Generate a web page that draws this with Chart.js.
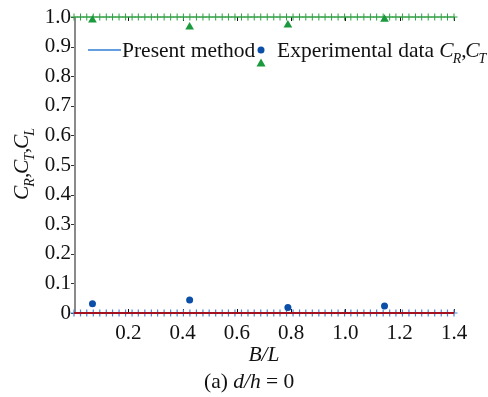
<!DOCTYPE html>
<html>
<head>
<meta charset="utf-8">
<script src="https://cdn.jsdelivr.net/npm/chart.js@4.4.0/dist/chart.umd.min.js"></script>
<style>
  html, body { margin: 0; padding: 0; background: #fff; }
  #wrap { width: 488px; height: 397px; }
</style>
</head>
<body>
<div id="wrap"><canvas id="myChart" width="488" height="397"></canvas></div>
<script>
// B/L sample points of the "present method" curves
const bGrid = [0, 0.024, 0.047, 0.071, 0.095, 0.119, 0.142, 0.166, 0.19, 0.214,
    0.237, 0.261, 0.285, 0.308, 0.332, 0.356, 0.38, 0.403, 0.427, 0.451,
    0.475, 0.498, 0.522, 0.546, 0.569, 0.593, 0.617, 0.641, 0.664, 0.688,
    0.712, 0.736, 0.759, 0.783, 0.807, 0.831, 0.854, 0.878, 0.902, 0.925,
    0.949, 0.973, 0.997, 1.02, 1.044, 1.068, 1.092, 1.115, 1.139, 1.163,
    1.186, 1.21, 1.234, 1.258, 1.281, 1.305, 1.329, 1.353, 1.376, 1.4];
// present method: C_T = 1, C_R = 0, C_L = 0 for d/h = 0
const ctPresent = 1.0;
const crPresent = 0.0;
const clPresent = 0.0;

// experimental data
const expB = [0.068, 0.426, 0.788, 1.144];
const expCR = [0.031, 0.044, 0.019, 0.024];
const expCT = [0.99, 0.966, 0.973, 0.992];

const xTicks = [0.2, 0.4, 0.6, 0.8, 1.0, 1.2, 1.4];

const serif = "'Liberation Serif', 'Times New Roman', serif";
Chart.defaults.font.family = serif;
Chart.defaults.color = '#111';

function pts(xs, ys) {
    return xs.map((x, i) => ({ x: x, y: ys[i] }));
}

// draws a string with italic main letter and small italic subscript
function drawSub(c, x, y, main, sub, size) {
    c.font = 'italic ' + size + 'px ' + serif;
    c.fillText(main, x, y);
    let w = c.measureText(main).width;
    c.font = 'italic ' + Math.round(size * 0.65) + 'px ' + serif;
    c.fillText(sub, x + w - 1, y + size * 0.28);
    return w - 1 + c.measureText(sub).width;
}

const decor = {
    id: 'decor',
    beforeDatasetsDraw(chart) {
        const c = chart.ctx;
        const xs = chart.scales.x, ys = chart.scales.y;
        const a = chart.chartArea;
        c.save();
        // left axis
        c.strokeStyle = '#8a8a8a';
        c.lineWidth = 2;
        c.beginPath();
        c.moveTo(a.left + 1, a.top);
        c.lineTo(a.left + 1, a.bottom);
        c.stroke();
        c.lineWidth = 1;
        c.strokeStyle = '#333';
        for (let v = 0; v <= 10; v++) {
            const py = Math.round(ys.getPixelForValue(v / 10)) + 0.5;
            c.beginPath();
            c.moveTo(a.left - 3, py);
            c.lineTo(a.left, py);
            c.stroke();
        }
        c.strokeStyle = '#111';
        xTicks.forEach(v => {
            const px = Math.round(xs.getPixelForValue(v)) + 0.5;
            c.beginPath();
            c.moveTo(px, a.bottom);
            c.lineTo(px, a.bottom - 4);
            c.moveTo(px, a.top);
            c.lineTo(px, a.top + 4);
            c.stroke();
        });
        c.restore();
    },
    afterDraw(chart) {
        const c = chart.ctx;
        const fs = 21.5;
        c.save();
        c.fillStyle = '#111';
        c.textBaseline = 'alphabetic';
        // legend
        c.strokeStyle = '#2f7fd6';
        c.lineWidth = 1.5;
        c.beginPath();
        c.moveTo(88, 50);
        c.lineTo(121, 50);
        c.stroke();
        c.font = fs + 'px ' + serif;
        c.textAlign = 'left';
        c.fillText('Present method', 122, 57);
        c.fillStyle = '#0b4fa8';
        c.beginPath();
        c.arc(261, 50, 3.5, 0, Math.PI * 2);
        c.fill();
        c.fillStyle = '#1a9a3c';
        c.beginPath();
        c.moveTo(261, 58.5);
        c.lineTo(265.5, 66.5);
        c.lineTo(256.5, 66.5);
        c.closePath();
        c.fill();
        c.fillStyle = '#111';
        c.font = fs + 'px ' + serif;
        c.fillText('Experimental data ', 277, 57);
        let x = 277 + c.measureText('Experimental data ').width;
        x += drawSub(c, x, 57, 'C', 'R', fs);
        c.font = fs + 'px ' + serif;
        c.fillText(',', x, 57);
        x += 4;
        drawSub(c, x, 57, 'C', 'T', fs);

        // y title
        c.save();
        c.translate(28, 200);
        c.rotate(-Math.PI / 2);
        let t = 0;
        t += drawSub(c, t, 0, 'C', 'R', fs);
        c.font = fs + 'px ' + serif;
        c.fillText(',', t, 0);
        t += 4;
        t += drawSub(c, t, 0, 'C', 'T', fs);
        c.font = fs + 'px ' + serif;
        c.fillText(',', t, 0);
        t += 4;
        drawSub(c, t, 0, 'C', 'L', fs);
        c.restore();

        // x title
        c.font = 'italic ' + fs + 'px ' + serif;
        c.textAlign = 'center';
        c.fillText('B/L', 264, 361);

        // caption
        c.textAlign = 'left';
        let cx = 204;
        c.font = fs + 'px ' + serif;
        c.fillText('(a) ', cx, 388);
        cx += c.measureText('(a) ').width;
        c.font = 'italic ' + fs + 'px ' + serif;
        c.fillText('d/h', cx, 388);
        cx += c.measureText('d/h').width;
        c.font = fs + 'px ' + serif;
        c.fillText(' = 0', cx, 388);
        c.restore();
    }
};

const ctx = document.getElementById('myChart');
const myChart = new Chart(ctx, {
    type: 'scatter',
    data: {
        datasets: [{
            label: 'C_T present',
            data: bGrid.map(b => ({ x: b, y: ctPresent })),
            order: 4,
            showLine: true,
            borderColor: '#3aa64c',
            borderWidth: 1,
            pointStyle: 'cross',
            pointRadius: 3.5,
            pointBorderColor: '#2e9e42',
            pointBorderWidth: 1,
            clip: false
        },
        {
            label: 'C_R present',
            data: bGrid.map(b => ({ x: b, y: crPresent })),
            order: 4,
            showLine: true,
            borderColor: '#3b7fd0',
            borderWidth: 1.5,
            pointStyle: 'cross',
            pointRadius: 3.5,
            pointBorderColor: '#4f82cf',
            pointBorderWidth: 1.2,
            clip: false
        },
        {
            label: 'C_L present',
            data: bGrid.map(b => ({ x: b, y: clPresent })),
            order: 2,
            showLine: true,
            borderColor: '#a3121e',
            borderWidth: 2,
            pointRadius: 0,
            clip: false
        },
        {
            label: 'C_R exp',
            data: pts(expB, expCR),
            order: 1,
            pointStyle: 'circle',
            pointRadius: 3.5,
            backgroundColor: '#0b4fa8',
            borderColor: '#0b4fa8',
            borderWidth: 0,
            clip: false
        },
        {
            label: 'C_T exp',
            data: pts(expB, expCT),
            order: 1,
            pointStyle: 'triangle',
            pointRadius: 5,
            backgroundColor: '#1a9a3c',
            borderColor: '#1a9a3c',
            borderWidth: 0,
            clip: false
        }
    ]
    },
    options: {
        responsive: false,
        animation: false,
        layout: {
            padding: { left: 0, right: 34, top: 17, bottom: 54 }
        },
        scales: {
            x: {
                type: 'linear',
                min: 0,
                max: 1.4,
                afterFit: s => { s.height = 30; },
                grid: { display: false, drawTicks: false },
                border: { display: false },
                ticks: {
                    stepSize: 0.2,
                    padding: 8,
                    color: '#111',
                    font: { size: 21 },
                    maxRotation: 0,
                    callback: v => (Math.abs(v) < 1e-9 ? '' : v.toFixed(1))
                }
            },
            y: {
                min: 0,
                max: 1,
                afterFit: s => { s.width = 74; },
                grid: { display: false, drawTicks: false },
                border: { display: false },
                ticks: {
                    stepSize: 0.1,
                    padding: 3,
                    color: '#111',
                    font: { size: 21 },
                    callback: v => (Math.abs(v) < 1e-9 ? '0' : v.toFixed(1))
                }
            }
        },
        plugins: {
            legend: { display: false },
            tooltip: { enabled: false }
        }
    },
    plugins: [decor]
});
</script>
</body>
</html>
